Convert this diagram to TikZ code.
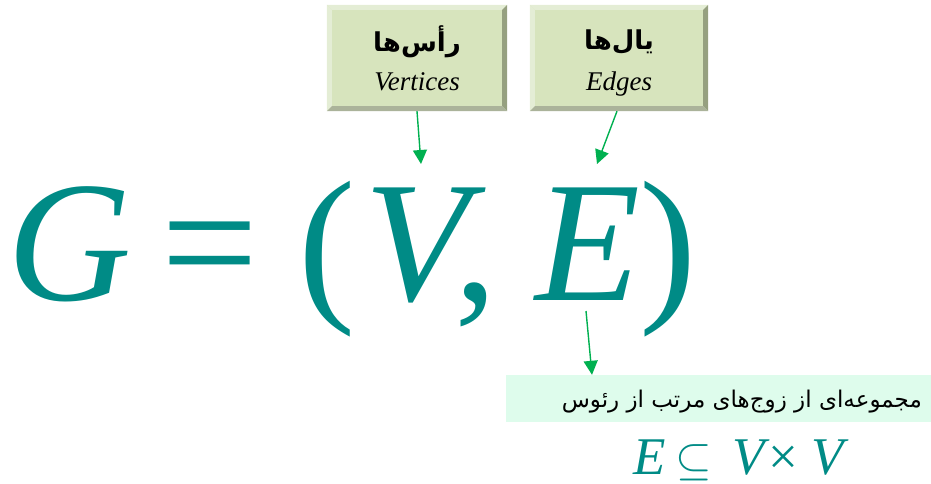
\documentclass[tikz,border=0pt]{standalone}
\usepackage{fontspec}
\setmainfont{Liberation Serif}
\newfontfamily\arabicfont[Script=Arabic]{DejaVu Sans}
\TeXXeTstate=1
\usetikzlibrary{arrows.meta,calc}

\definecolor{tealmath}{RGB}{0,139,134}
\definecolor{arrgreen}{RGB}{0,176,80}
\definecolor{boxfill}{RGB}{215,228,189}
\definecolor{boxlight}{RGB}{228,237,213}
\definecolor{boxdark}{RGB}{150,160,128}
\definecolor{notefill}{RGB}{222,252,236}

\tikzset{
    titlebox/.style={fill=boxfill, minimum height=106pt, inner sep=0pt},
    bigsym/.style={anchor=base, inner sep=0pt, text=tealmath, font=\fontsize{172}{172}\selectfont},
    smallsym/.style={anchor=base, inner sep=0pt, text=tealmath, font=\fontsize{53}{53}\selectfont},
    arr/.style={draw=arrgreen, line width=1.4pt, -{Triangle[width=14pt,length=14pt]}},
}

% bevel round a titlebox
\newcommand{\bevel}[1]{
    \fill[boxlight] (#1.north west) -- (#1.north east) -- ($(#1.north east)+(-5,5)$) -- ($(#1.north west)+(5,5)$) -- cycle;
    \fill[boxlight] (#1.north west) -- ($(#1.north west)+(5,5)$) -- ($(#1.south west)+(5,-5)$) -- (#1.south west) -- cycle;
    \fill[boxdark] (#1.north east) -- (#1.south east) -- ($(#1.south east)+(-5,-5)$) -- ($(#1.north east)+(-5,5)$) -- cycle;
    \fill[boxdark!80] (#1.south west) -- (#1.south east) -- ($(#1.south east)+(-5,-5)$) -- ($(#1.south west)+(5,-5)$) -- cycle;
}

\begin{document}
\begin{tikzpicture}[x=1pt, y=-1pt]
    \useasboundingbox (0,0) rectangle (931,484);

    \node[titlebox, minimum width=180pt] (vbox) at (417,58) {};
    \bevel{vbox}
    \node (vtitle) at (417,42) {\arabicfont\bfseries\fontsize{26}{30}\selectfont\beginR رأس‌ها\endR};
    \node[anchor=base] (vname) at (417,91) {\fontsize{27}{30}\selectfont\textit{Vertices}};

    \node[titlebox, minimum width=178pt] (ebox) at (619,58) {};
    \bevel{ebox}
    \node (etitle) at (619,42) {\arabicfont\bfseries\fontsize{26}{30}\selectfont\beginR یال‌ها\endR};
    \node[anchor=base] (ename) at (619,91) {\fontsize{27}{30}\selectfont\textit{Edges}};

    % G = (V, E)
    \node[bigsym] (gG) at (70,300) {\textit{G}};
    \node[bigsym] (geq) at (210,300) {=};
    \node[bigsym] (glp) at (327,300) {(};
    \node[bigsym] (gV) at (425,300) {\textit{V}};
    \node[bigsym] (gcomma) at (476,300) {,};
    \node[bigsym] (gE) at (588,300) {\textit{E}};
    \node[bigsym] (grp) at (668,300) {)};
    \coordinate (vtip) at (421,164);
    \coordinate (etip) at (597,164);
    \coordinate (efoot) at (586,311);

    \node[fill=notefill, minimum width=425pt, minimum height=47pt, inner sep=0pt] (note) at (718.5,398.5) {};
    \node[anchor=base east, inner sep=0pt] (notetext) at (922,407)
        {\arabicfont\fontsize{23}{26}\selectfont\beginR مجموعه‌ای از زوج‌های مرتب از رئوس\endR};

    % E subset V x V
    \node[smallsym] (sE) at (650,474) {\textit{E}};
    \node[smallsym] (ssub) at (694,474) {\fontsize{10}{10}\selectfont\scalebox{4.7}{$\subseteq$}};
    \node[smallsym] (sV) at (751,474) {\textit{V}};
    \node[smallsym] (stimes) at (783,474) {×};
    \node[smallsym] (sVV) at (830,474) {\textit{V}};

    \draw[arr] (vbox.south) -- (vtip);
    \draw[arr] (ebox.south) ++(-2,0) -- (etip);
    \draw[arr] (efoot) -- (note.north -| 592,0);
\end{tikzpicture}
\end{document}
